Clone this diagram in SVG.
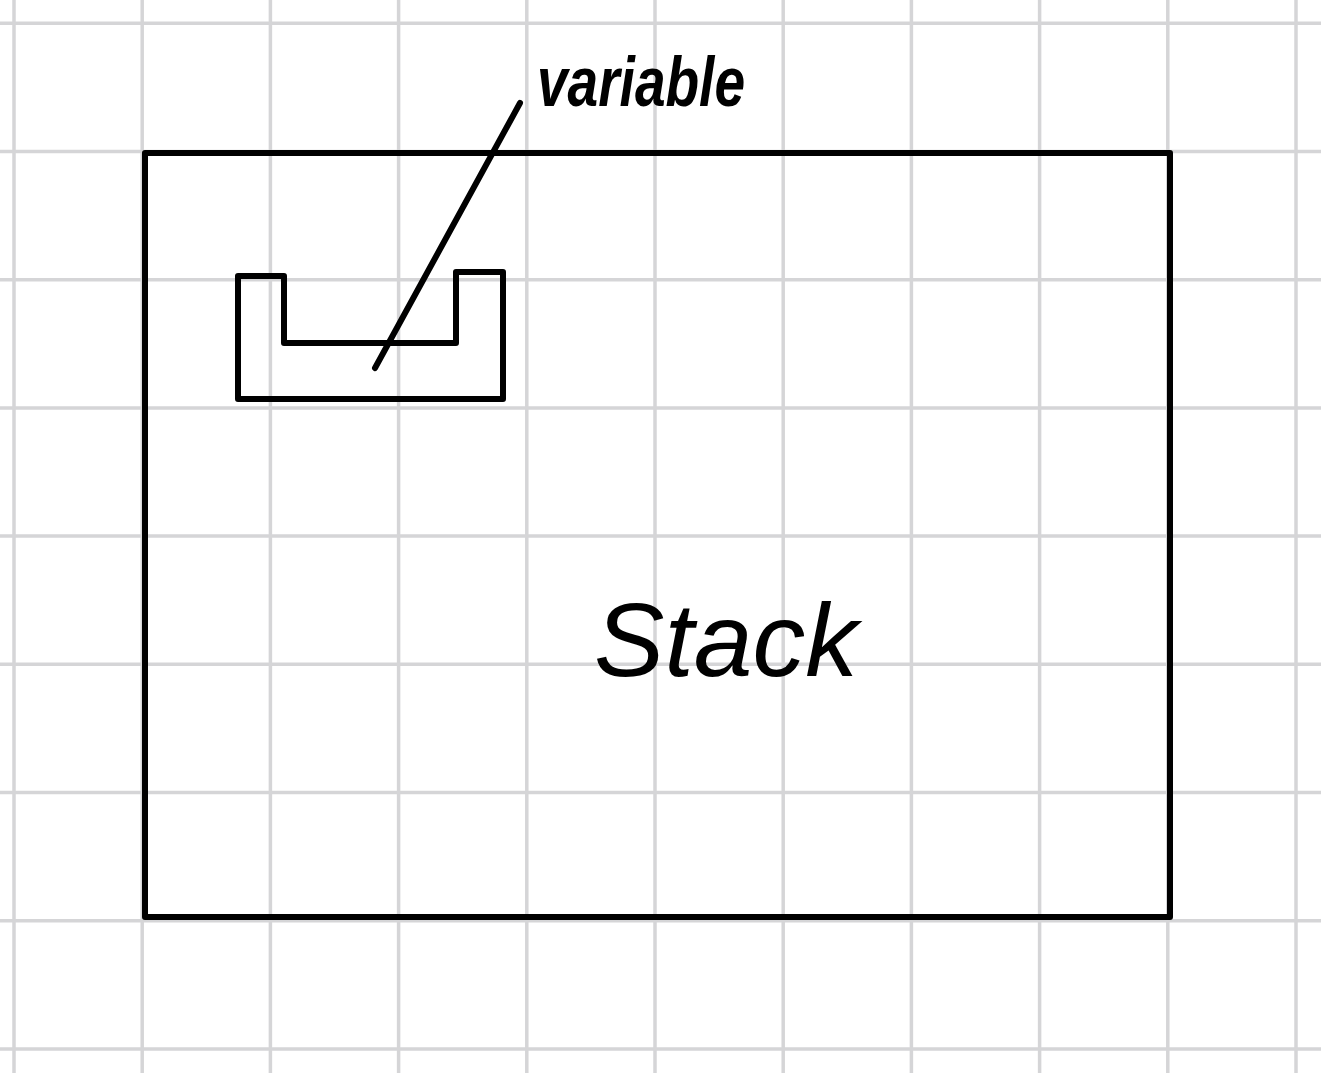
<svg xmlns="http://www.w3.org/2000/svg" width="1321" height="1073" viewBox="0 0 1321 1073">
  <style>
    .grid { stroke: #d5d5d7; stroke-width: 3.5; fill: none; }
    .ink { stroke: #000; stroke-width: 6; fill: none; stroke-linejoin: round; stroke-linecap: round; }
    .hand { font-family: "Liberation Sans", "DejaVu Sans", sans-serif; font-style: italic; fill: #000; }
  </style>
  <rect x="0" y="0" width="1321" height="1073" fill="#ffffff"/>
  <g id="grid">
    <path class="grid" d="M14,0V1073 M142.2,0V1073 M270.4,0V1073 M398.6,0V1073 M526.8,0V1073 M655,0V1073 M783.2,0V1073 M911.4,0V1073 M1039.6,0V1073 M1167.8,0V1073 M1296,0V1073"/>
    <path class="grid" d="M0,23.3H1321 M0,151.5H1321 M0,279.7H1321 M0,407.9H1321 M0,536.1H1321 M0,664.3H1321 M0,792.5H1321 M0,920.7H1321 M0,1048.9H1321"/>
  </g>
  <g id="stack">
    <rect class="ink" x="145" y="153" width="1025" height="764"/>
    <text class="hand" x="594" y="676" font-size="104" textLength="264" lengthAdjust="spacingAndGlyphs">Stack</text>
  </g>
  <g id="variable">
    <polygon class="ink" points="238,276 284,276 284,343 456,343 456,272 503,272 503,399 238,399"/>
  </g>
  <g id="variable-label">
    <text class="hand" x="537" y="106" font-size="70" font-weight="bold" textLength="208" lengthAdjust="spacingAndGlyphs">variable</text>
  </g>
  <g id="connectors">
    <line class="ink" x1="375" y1="368" x2="520" y2="103"/>
  </g>
</svg>
